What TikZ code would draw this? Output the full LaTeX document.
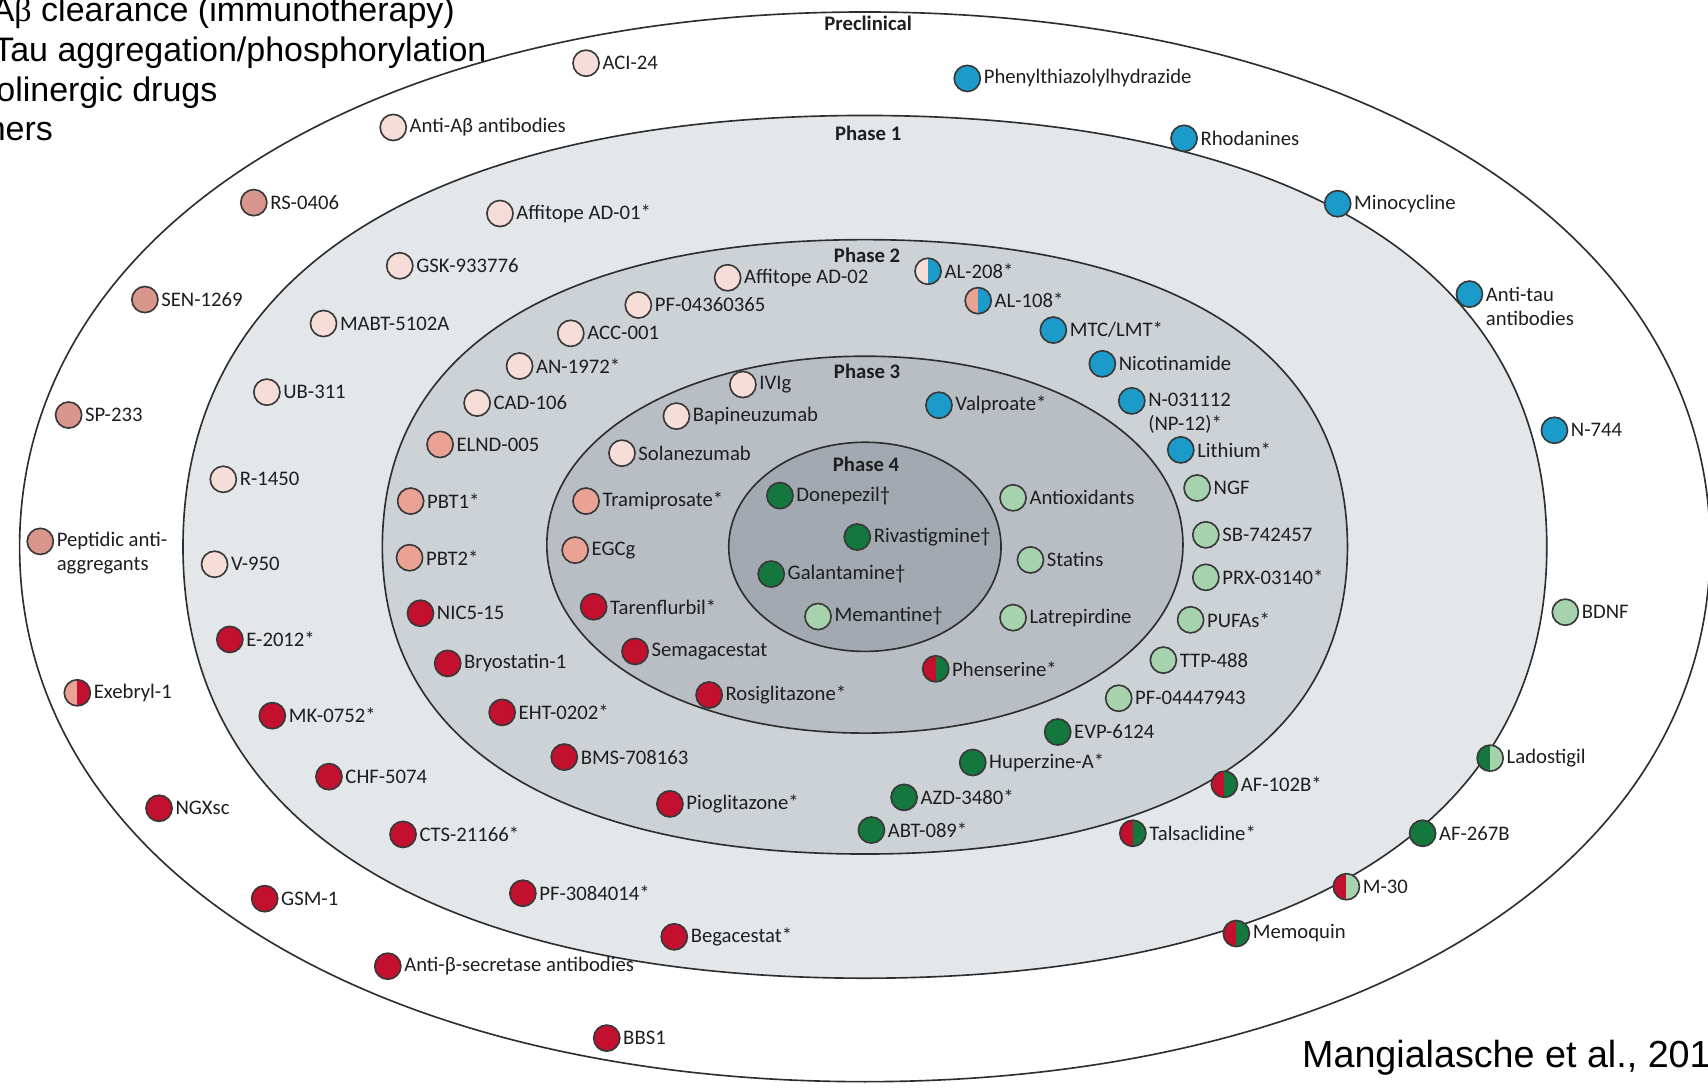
\documentclass[tikz,border=0pt]{standalone}
\usepackage{fontspec}
\setmainfont{Carlito}
\newfontfamily\legendfont{Liberation Sans}
\newfontfamily\symbolserif{Liberation Serif}
\newfontfamily\citefont{Liberation Sans}

\definecolor{ringline}{HTML}{2E2E2E}
\definecolor{phaseA}{HTML}{E4E7EA}
\definecolor{phaseB}{HTML}{CDD2D6}
\definecolor{phaseC}{HTML}{B8BEC4}
\definecolor{phaseD}{HTML}{A2A9B0}
\definecolor{dotline}{HTML}{383838}
\definecolor{cpink}{HTML}{F6DDD7}
\definecolor{csalmon}{HTML}{E9A293}
\definecolor{csalmondk}{HTML}{D9968D}
\definecolor{cred}{HTML}{C3102F}
\definecolor{cblue}{HTML}{1A9BC9}
\definecolor{cgreendk}{HTML}{14773D}
\definecolor{cgreenlt}{HTML}{A6D2AE}
\definecolor{labtext}{HTML}{1E1E1E}

% rounded ring: fill, cx, cy, a, b, top handle, side handle
\newcommand\ringshape[7]{%
  \draw[ring, fill=#1] (#2+#4,#3)
    .. controls (#2+#4,#3-#7*#5) and (#2+#6*#4,#3-#5) .. (#2,#3-#5)
    .. controls (#2-#6*#4,#3-#5) and (#2-#4,#3-#7*#5) .. (#2-#4,#3)
    .. controls (#2-#4,#3+#7*#5) and (#2-#6*#4,#3+#5) .. (#2,#3+#5)
    .. controls (#2+#6*#4,#3+#5) and (#2+#4,#3+#7*#5) .. (#2+#4,#3) -- cycle;}

% one compound: [label options]{name}{x}{y}{dot style}{label}
\newcommand\drug[6][]{%
  \node[dot,#5] (#2) at (#3,#4) {};
  \node[lab,#1] (#2-text) at ([xshift=1pt]#2.east) {#6};}

\tikzset{
  ring/.style={draw=ringline, line width=0.75pt},
  dot/.style={circle, draw=dotline, line width=0.75pt, minimum size=12pt, inner sep=0pt},
  halfdot/.style 2 args={path picture={
    \fill[#1] (path picture bounding box.south west) rectangle (path picture bounding box.north);
    \fill[#2] (path picture bounding box.south) rectangle (path picture bounding box.north east);}},
  lab/.style={anchor=west, inner sep=0pt, align=left, text=labtext,
    font=\fontsize{9.5}{11}\selectfont},
  twoline/.style={yshift=-5.5pt},
  phaselab/.style={inner sep=0pt, text=labtext, font=\bfseries\fontsize{9.5}{11}\selectfont},
  legendtext/.style={anchor=base east, inner sep=0pt, font=\legendfont\fontsize{15.6}{18}\selectfont},
  citetext/.style={anchor=base west, inner sep=0pt, font=\citefont\fontsize{17.3}{20}\selectfont},
}

\begin{document}
\begin{tikzpicture}[x=0.5pt, y=-0.5pt]
\useasboundingbox (0,0) rectangle (1568,998);
\clip (0,0) rectangle (1568,998);
\fill[white] (0,0) rectangle (1568,998);

% nested phase rings
\ringshape{white}{794}{502}{776}{491}{0.58}{0.6}
\ringshape{phaseA}{794}{502}{626}{396}{0.55}{0.72}
\ringshape{phaseB}{794}{502}{443}{282}{0.55}{0.72}
\ringshape{phaseC}{794}{500}{292}{173}{0.56}{0.58}
\ringshape{phaseD}{794}{502}{125}{96}{0.55}{0.56}

% phase titles
\node[phaselab] (tpre) at (797,21) {Preclinical};
\node[phaselab] (tph1) at (797,122) {Phase 1};
\node[phaselab] (tph2) at (796,234) {Phase 2};
\node[phaselab] (tph3) at (796,341) {Phase 3};
\node[phaselab] (tph4) at (795,426) {Phase 4};

% preclinical
\drug{aci}{538}{58}{fill=cpink}{ACI-24}
\drug{antiab}{361}{117}{fill=cpink}{Anti-Aβ antibodies}
\drug{rs}{233}{186}{fill=csalmondk}{RS-0406}
\drug{sen}{133}{275}{fill=csalmondk}{SEN-1269}
\drug{sp}{63}{381}{fill=csalmondk}{SP-233}
\drug[twoline]{pep}{37}{497}{fill=csalmondk}{Peptidic anti-\\aggregants}
\drug{exe}{71}{636}{halfdot={csalmon}{cred}}{Exebryl-1}
\drug{ngx}{146}{742}{fill=cred}{NGXsc}
\drug{gsm}{243}{825}{fill=cred}{GSM-1}
\drug{antibs}{356}{887}{fill=cred}{Anti-β-secretase antibodies}
\drug{bbs}{557}{953}{fill=cred}{BBS1}
\drug{phy}{888}{72}{fill=cblue}{Phenylthiazolylhydrazide}
\drug{rho}{1087}{127}{fill=cblue}{Rhodanines}
\drug{mino}{1228}{187}{fill=cblue}{Minocycline}
\drug[twoline]{antitau}{1349}{270}{fill=cblue}{Anti-tau\\antibodies}
\drug{nsev}{1427}{395}{fill=cblue}{N-744}
\drug{bdnf}{1437}{562}{fill=cgreenlt}{BDNF}
\drug{lado}{1368}{696}{halfdot={cgreendk}{cgreenlt}}{Ladostigil}
\drug{afb}{1306}{765}{fill=cgreendk}{AF-267B}
\drug{mthirty}{1236}{814}{halfdot={cred}{cgreenlt}}{M-30}
\drug{memo}{1135}{857}{halfdot={cred}{cgreendk}}{Memoquin}

% phase 1
\drug{affa}{459}{196}{fill=cpink}{Affitope AD-01*}
\drug{gsk}{367}{244}{fill=cpink}{GSK-933776}
\drug{mabt}{297}{297}{fill=cpink}{MABT-5102A}
\drug{ub}{245}{360}{fill=cpink}{UB-311}
\drug{rfourteen}{205}{440}{fill=cpink}{R-1450}
\drug{vnine}{197}{518}{fill=cpink}{V-950}
\drug{etwo}{211}{587}{fill=cred}{E-2012*}
\drug{mk}{250}{657}{fill=cred}{MK-0752*}
\drug{chf}{302}{713}{fill=cred}{CHF-5074}
\drug{cts}{370}{766}{fill=cred}{CTS-21166*}
\drug{pfthree}{480}{820}{fill=cred}{PF-3084014*}
\drug{bega}{619}{860}{fill=cred}{Begacestat*}
\drug{tals}{1040}{765}{halfdot={cred}{cgreendk}}{Talsaclidine*}
\drug{afone}{1124}{720}{halfdot={cred}{cgreendk}}{AF-102B*}

% phase 2
\drug{affb}{668}{255}{fill=cpink}{Affitope AD-02}
\drug{pfzero}{586}{280}{fill=cpink}{PF-04360365}
\drug{acc}{524}{306}{fill=cpink}{ACC-001}
\drug{an}{477}{336}{fill=cpink}{AN-1972*}
\drug{cad}{438}{370}{fill=cpink}{CAD-106}
\drug{elnd}{404}{408}{fill=csalmon}{ELND-005}
\drug{pbta}{377}{460}{fill=csalmon}{PBT1*}
\drug{pbtb}{376}{512}{fill=csalmon}{PBT2*}
\drug{nic}{386}{563}{fill=cred}{NIC5-15}
\drug{bryo}{411}{609}{fill=cred}{Bryostatin-1}
\drug{eht}{461}{654}{fill=cred}{EHT-0202*}
\drug{bms}{518}{695}{fill=cred}{BMS-708163}
\drug{pio}{615}{738}{fill=cred}{Pioglitazone*}
\drug{abt}{800}{762}{fill=cgreendk}{ABT-089*}
\drug{azd}{830}{732}{fill=cgreendk}{AZD-3480*}
\drug{hup}{893}{700}{fill=cgreendk}{Huperzine-A*}
\drug{evp}{971}{672}{fill=cgreendk}{EVP-6124}
\drug{pffour}{1027}{641}{fill=cgreenlt}{PF-04447943}
\drug{ttp}{1068}{606}{fill=cgreenlt}{TTP-488}
\drug{pufa}{1093}{569}{fill=cgreenlt}{PUFAs*}
\drug{prx}{1107}{530}{fill=cgreenlt}{PRX-03140*}
\drug{sb}{1107}{491}{fill=cgreenlt}{SB-742457}
\drug{ngf}{1099}{448}{fill=cgreenlt}{NGF}
\drug{lith}{1084}{413}{fill=cblue}{Lithium*}
\drug[twoline]{nzero}{1039}{368}{fill=cblue}{N-031112\\(NP-12)*}
\drug{nico}{1012}{334}{fill=cblue}{Nicotinamide}
\drug{mtc}{967}{303}{fill=cblue}{MTC/LMT*}
\drug{alone}{898}{276}{halfdot={csalmon}{cblue}}{AL-108*}
\drug{altwo}{852}{249}{halfdot={cpink}{cblue}}{AL-208*}

% phase 3
\drug{ivig}{682}{353}{fill=cpink}{IVIg}
\drug{bapi}{621}{382}{fill=cpink}{Bapineuzumab}
\drug{sola}{571}{416}{fill=cpink}{Solanezumab}
\drug{trami}{538}{460}{fill=csalmon}{Tramiprosate*}
\drug{egcg}{528}{505}{fill=csalmon}{EGCg}
\drug{taren}{545}{557}{fill=cred}{Tarenflurbil*}
\drug{sema}{583}{598}{fill=cred}{Semagacestat}
\drug{rosi}{651}{638}{fill=cred}{Rosiglitazone*}
\drug{phens}{859}{614}{halfdot={cred}{cgreendk}}{Phenserine*}
\drug{latr}{930}{567}{fill=cgreenlt}{Latrepirdine}
\drug{stat}{946}{514}{fill=cgreenlt}{Statins}
\drug{antiox}{930}{457}{fill=cgreenlt}{Antioxidants}
\drug{valp}{862}{372}{fill=cblue}{Valproate*}

% phase 4
\drug{done}{716}{455}{fill=cgreendk}{Donepezil†}
\drug{riva}{787}{493}{fill=cgreendk}{Rivastigmine†}
\drug{gala}{708}{527}{fill=cgreendk}{Galantamine†}
\drug{mema}{751}{566}{fill=cgreenlt}{Memantine†}

% mechanism list and citation
\node[legendtext] (leg1) at (418,20) {A{\symbolserif β} clearance (immunotherapy)};
\node[legendtext] (leg2) at (447,56) {Tau aggregation/phosphorylation};
\node[legendtext] (leg3) at (200,93) {Cholinergic drugs};
\node[legendtext] (leg4) at (49,129) {Others};
\node[citetext] (cite) at (1195,980) {Mangialasche et al., 2010};
\end{tikzpicture}
\end{document}
